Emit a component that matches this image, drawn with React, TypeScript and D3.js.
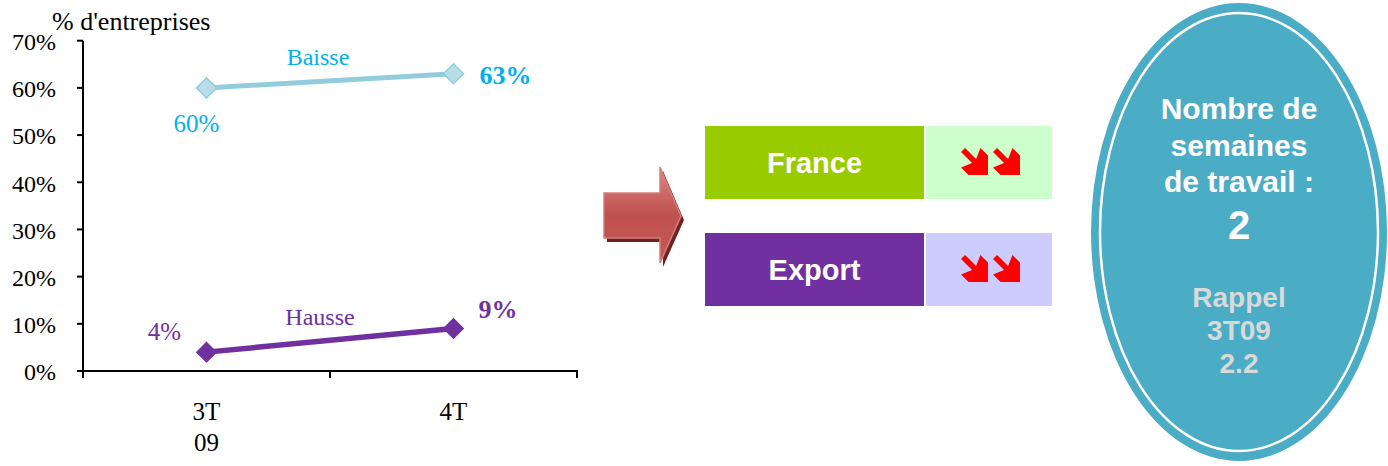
import React from "react";
import * as d3 from "d3";

// ---- data ----
const categories = ["3T 09", "4T"];
const categoryLines = [["3T", "09"], ["4T"]];
const baisse = [0.6, 0.63];
const hausse = [0.04, 0.09];
const yTicks = [0, 0.1, 0.2, 0.3, 0.4, 0.5, 0.6, 0.7];
const markets = ["France", "Export"];
const marketColors = ["#99CC00", "#7030A0"];
const trendColors = ["#CCFFCC", "#CCCCFF"];
const ovalLines = ["Nombre de", "semaines", "de travail :"];
const ovalValue = "2";
const rappelLines = ["Rappel", "3T09", "2.2"];

const W = 1388;
const H = 466;

const serif = "'Liberation Serif', 'Times New Roman', serif";
const sans = "'Liberation Sans', Arial, sans-serif";

function DownArrow({ x, y, s }: { x: number; y: number; s: number }) {
  const pts: [number, number][] = [
    [0, 0.15],
    [0.15, 0],
    [0.56, 0.41],
    [0.72, 0],
    [1, 0.28],
    [1, 1],
    [0.28, 1],
    [0, 0.72],
    [0.41, 0.56],
  ];
  const d = "M" + pts.map(([px, py]) => `${x + px * s},${y + py * s}`).join("L") + "Z";
  return <path d={d} fill="#FF0000" />;
}

export default function App() {
  const x = d3.scaleBand<string>().domain(categories).range([83, 577]).padding(0);
  const y = d3.scaleLinear().domain([0, 0.7]).range([371, 40.7]);
  const cx = (i: number) => (x(categories[i]) as number) + x.bandwidth() / 2;

  const line = d3
    .line<number>()
    .x((_, i) => cx(i))
    .y((v) => y(v));

  const diamond = d3.symbol(d3.symbolSquare, 200)() as string;

  const pct = (v: number) => `${Math.round(v * 100)}%`;

  // block arrow geometry
  const ax0 = 604, ax1 = 660, ax2 = 681, ay0 = 167, ay1 = 193, ay2 = 238, ay3 = 263, aym = 216;
  const arrowPts = `${ax0},${ay1} ${ax1},${ay1} ${ax1},${ay0} ${ax2},${aym} ${ax1},${ay3} ${ax1},${ay2} ${ax0},${ay2}`;

  const boxX0 = 705, boxW0 = 219, boxX1 = 926, boxW1 = 126, boxH = 73;
  const boxYs = [126, 233];

  const ecx = 1239, ecy = 232;

  return (
    <svg
      width={W}
      height={H}
      style={{ position: "absolute", left: 0, top: 0, background: "#fff" }}
    >
      <defs>
        <linearGradient id="arrowGrad" x1="0" y1="0" x2="0" y2="1">
          <stop offset="0" stopColor="#D98986" />
          <stop offset="0.5" stopColor="#C0504D" />
          <stop offset="1" stopColor="#C55A57" />
        </linearGradient>
      </defs>

      {/* ---- chart ---- */}
      <text x={52} y={30} fontFamily={serif} fontSize={26} fill="#000">
        % d'entreprises
      </text>

      {/* y axis */}
      <line x1={83} x2={83} y1={y(0.7)} y2={y(0)} stroke="#000" strokeWidth={2} />
      {yTicks.map((t) => (
        <g key={t}>
          <line x1={77} x2={83} y1={y(t)} y2={y(t)} stroke="#000" strokeWidth={2} />
          <text
            x={56}
            y={y(t) + 1}
            dy="0.35em"
            textAnchor="end"
            fontFamily={serif}
            fontSize={24}
            fill="#000"
          >
            {pct(t)}
          </text>
        </g>
      ))}

      {/* x axis */}
      <line x1={82} x2={578} y1={y(0)} y2={y(0)} stroke="#000" strokeWidth={2} />
      {[83, ...categories.map((c) => (x(c) as number) + x.bandwidth())].map((px, i) => (
        <line key={i} x1={px} x2={px} y1={y(0)} y2={y(0) + 7} stroke="#000" strokeWidth={2} />
      ))}
      {categoryLines.map((ls, i) => (
        <text key={i} textAnchor="middle" fontFamily={serif} fontSize={25} fill="#000">
          {ls.map((l, j) => (
            <tspan key={j} x={cx(i)} y={420 + j * 31}>
              {l}
            </tspan>
          ))}
        </text>
      ))}

      {/* Baisse */}
      <path d={line(baisse) as string} fill="none" stroke="#93CDDD" strokeWidth={5} />
      {baisse.map((v, i) => (
        <path
          key={i}
          d={diamond}
          transform={`translate(${cx(i)},${y(v)}) rotate(45)`}
          fill="#B7DEE8"
          stroke="#93CDDD"
          strokeWidth={1.5}
        />
      ))}
      <text x={318} y={65} textAnchor="middle" fontFamily={serif} fontSize={24} fill="#00B0F0">
        Baisse
      </text>
      <text x={cx(0) - 10} y={y(baisse[0]) + 44} textAnchor="middle" fontFamily={serif} fontSize={25} fill="#00B0F0">
        {pct(baisse[0])}
      </text>
      <text x={cx(1) + 26} y={y(baisse[1]) + 10} textAnchor="start" fontFamily={serif} fontSize={26} fontWeight="bold" fill="#00B0F0">
        {pct(baisse[1])}
      </text>

      {/* Hausse */}
      <path d={line(hausse) as string} fill="none" stroke="#7030A0" strokeWidth={5.5} />
      {hausse.map((v, i) => (
        <path
          key={i}
          d={diamond}
          transform={`translate(${cx(i)},${y(v)}) rotate(45)`}
          fill="#7030A0"
          stroke="#7030A0"
          strokeWidth={1}
        />
      ))}
      <text x={320} y={325} textAnchor="middle" fontFamily={serif} fontSize={24} fill="#7030A0">
        Hausse
      </text>
      <text x={cx(0) - 42} y={y(hausse[0]) - 12} textAnchor="middle" fontFamily={serif} fontSize={25} fill="#7030A0">
        {pct(hausse[0])}
      </text>
      <text x={cx(1) + 25} y={y(hausse[1]) - 11} textAnchor="start" fontFamily={serif} fontSize={26} fontWeight="bold" fill="#7030A0">
        {pct(hausse[1])}
      </text>

      {/* ---- block arrow ---- */}
      <polygon points={arrowPts} transform="translate(3,4)" fill="#6E2321" />
      <polygon points={arrowPts} fill="url(#arrowGrad)" stroke="#D47E7B" strokeWidth={1.5} />

      {/* ---- boxes ---- */}
      {markets.map((m, i) => (
        <g key={m}>
          <rect x={boxX0} y={boxYs[i]} width={boxW0} height={boxH} fill={marketColors[i]} />
          <rect x={boxX1} y={boxYs[i]} width={boxW1} height={boxH} fill={trendColors[i]} />
          <text
            x={boxX0 + boxW0 / 2}
            y={boxYs[i] + 47}
            textAnchor="middle"
            fontFamily={sans}
            fontWeight="bold"
            fontSize={29}
            fill="#fff"
          >
            {m}
          </text>
          <DownArrow x={961} y={boxYs[i] + 22} s={27} />
          <DownArrow x={993} y={boxYs[i] + 22} s={27} />
        </g>
      ))}

      {/* ---- oval ---- */}
      <ellipse cx={ecx} cy={ecy} rx={148} ry={229} fill="#4BACC6" />
      <ellipse cx={ecx} cy={ecy} rx={139} ry={219} fill="none" stroke="#fff" strokeWidth={2.5} />
      {ovalLines.map((l, i) => (
        <text
          key={l}
          x={ecx}
          y={119 + i * 36.5}
          textAnchor="middle"
          fontFamily={sans}
          fontWeight="bold"
          fontSize={30}
          fill="#fff"
        >
          {l}
        </text>
      ))}
      <text x={ecx} y={239} textAnchor="middle" fontFamily={sans} fontWeight="bold" fontSize={40} fill="#fff">
        {ovalValue}
      </text>
      {rappelLines.map((l, i) => (
        <text
          key={l}
          x={ecx}
          y={307 + i * 33}
          textAnchor="middle"
          fontFamily={sans}
          fontWeight="bold"
          fontSize={28}
          fill="#D9D9D9"
        >
          {l}
        </text>
      ))}
    </svg>
  );
}
